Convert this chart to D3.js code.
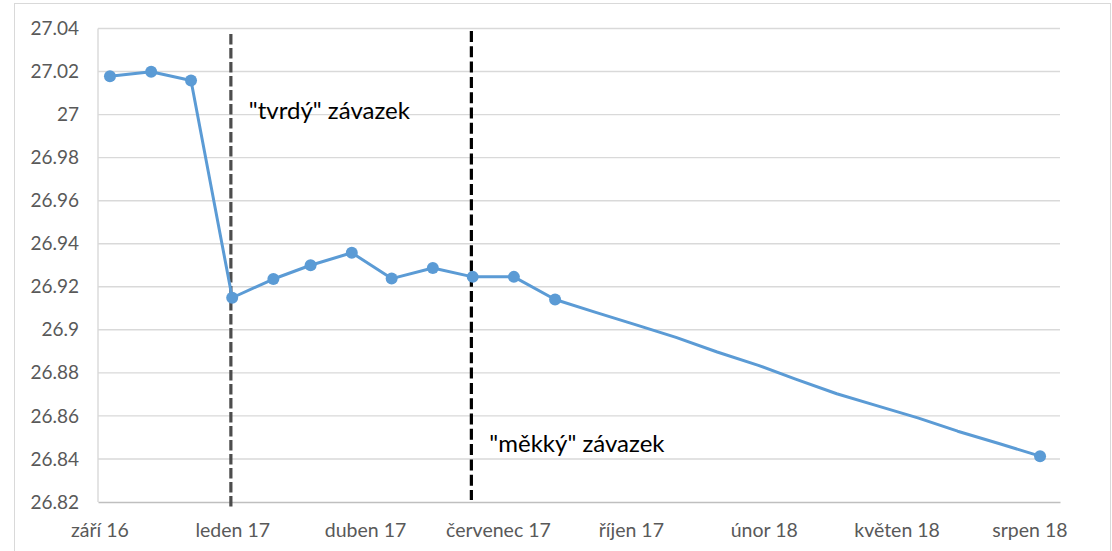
<!DOCTYPE html>
<html>
<head>
<meta charset="utf-8">
<script src="https://cdn.jsdelivr.net/npm/d3@7"></script>
<style>
  html, body { margin: 0; padding: 0; background: #fff; }
  svg { display: block; }
  text { font-family: Lato, "Open Sans", sans-serif; }
</style>
</head>
<body>
<svg id="chart" width="1112" height="551"></svg>
<script>
// ---- data ----
const dates = [
  "2016-09-30","2016-10-31","2016-11-30","2016-12-31","2017-01-31","2017-02-28",
  "2017-03-31","2017-04-30","2017-05-31","2017-06-30","2017-07-31","2017-08-31",
  "2017-09-30","2017-10-31","2017-11-30","2017-12-31","2018-01-31","2018-02-28",
  "2018-03-31","2018-04-30","2018-05-31","2018-06-30","2018-07-31","2018-08-31"
];
const values = [
  27.0178, 27.0199, 27.0158, 26.9149, 26.9236, 26.9300,
  26.9358, 26.9238, 26.9287, 26.9246, 26.9246, 26.9141,
  26.9082, 26.9023, 26.8965, 26.8897, 26.8835, 26.8771,
  26.8703, 26.8648, 26.8591, 26.8529, 26.8472, 26.8413
];
const markerFlags = [1,1,1,1,1,1,1,1,1,1,1,1,0,0,0,0,0,0,0,0,0,0,0,1];
const yTicks = [26.82, 26.84, 26.86, 26.88, 26.90, 26.92, 26.94, 26.96, 26.98, 27.00, 27.02, 27.04];
const xTickDates = ["2016-09-22","2016-12-31","2017-04-10","2017-07-19","2017-10-27","2018-02-04","2018-05-15","2018-08-23"];
const xTickLabels = ["září 16","leden 17","duben 17","červenec 17","říjen 17","únor 18","květen 18","srpen 18"];
const commitDates = ["2016-12-30","2017-06-29"];
const commitLabels = ["\"tvrdý\" závazek", "\"měkký\" závazek"];
const commitLabelValues = [26.998, 26.843];

// ---- layout ----
const W = 1112, H = 551;
const plot = { left: 98, right: 1060, top: 28.5, bottom: 502 };
const parse = d3.utcParse("%Y-%m-%d");
const data = dates.map((d, i) => ({ date: parse(d), value: values[i], marker: markerFlags[i] }));

const svg = d3.select("#chart");
svg.append("rect").attr("x", 0).attr("y", 0).attr("width", W).attr("height", H).attr("fill", "#fff");
// chart area border
svg.append("rect").attr("x", 14.5).attr("y", 3.5).attr("width", 1096).attr("height", 600)
  .attr("fill", "none").attr("stroke", "#d9d9d9").attr("stroke-width", 1);

const x = d3.scaleUtc()
  .domain([d3.utcDay.offset(data[0].date, -9), d3.utcDay.offset(data[data.length - 1].date, 15)])
  .range([plot.left, plot.right]);
const y = d3.scaleLinear().domain([26.82, 27.04]).range([plot.bottom, plot.top]);

// gridlines
svg.append("g").selectAll("line").data(yTicks.slice(1)).join("line")
  .attr("x1", plot.left).attr("x2", plot.right)
  .attr("y1", d => y(d)).attr("y2", d => y(d))
  .attr("stroke", "#d9d9d9").attr("stroke-width", 1.4);
// left border of plot area
svg.append("line").attr("x1", plot.left).attr("x2", plot.left)
  .attr("y1", y(27.04)).attr("y2", y(26.82))
  .attr("stroke", "#d9d9d9").attr("stroke-width", 1.4);

// y axis labels
const yAxis = d3.axisLeft(y).tickValues(yTicks).tickSize(0).tickPadding(19)
  .tickFormat(d => String(+d.toFixed(2)));
const gy = svg.append("g").attr("transform", `translate(${plot.left},0)`).call(yAxis);
gy.select(".domain").remove();
gy.selectAll("text").attr("fill", "#595959").style("font-size", "19px").style("font-family", "Lato, sans-serif");

// x axis
const xAxis = d3.axisBottom(x).tickValues(xTickDates.map(parse)).tickSize(0).tickPadding(21)
  .tickFormat((d, i) => xTickLabels[i]);
const gx = svg.append("g").attr("transform", `translate(0,${plot.bottom})`).call(xAxis);
gx.select(".domain").attr("stroke", "#bfbfbf").attr("stroke-width", 1.6);
gx.selectAll("text").attr("fill", "#595959").style("font-size", "19.5px").style("font-family", "Lato, sans-serif");

// commitment dashed lines
const dashStyles = [
  { color: "#4d4d4d", dash: "10.5,3.5", top: 34, bottom: 507 },
  { color: "#000000", dash: "11,4.3", top: 31, bottom: 500 }
];
commitDates.forEach((d, i) => {
  const xd = x(parse(d));
  svg.append("line").attr("x1", xd).attr("x2", xd)
    .attr("y1", dashStyles[i].top).attr("y2", dashStyles[i].bottom)
    .attr("stroke", dashStyles[i].color).attr("stroke-width", 3.2)
    .attr("stroke-dasharray", dashStyles[i].dash);
});

// series line
const line = d3.line().x(d => x(d.date)).y(d => y(d.value));
svg.append("path").datum(data).attr("d", line)
  .attr("fill", "none").attr("stroke", "#5b9bd5").attr("stroke-width", 3)
  .attr("stroke-linejoin", "round").attr("stroke-linecap", "round");
svg.append("g").selectAll("circle").data(data.filter(d => d.marker)).join("circle")
  .attr("cx", d => x(d.date)).attr("cy", d => y(d.value)).attr("r", 6)
  .attr("fill", "#5b9bd5");

// annotations
commitDates.forEach((d, i) => {
  svg.append("text")
    .attr("x", x(parse(d)) + 18)
    .attr("y", y(commitLabelValues[i]))
    .attr("fill", "#000")
    .style("font-size", "24px")
    .text(commitLabels[i]);
});
</script>
</body>
</html>
